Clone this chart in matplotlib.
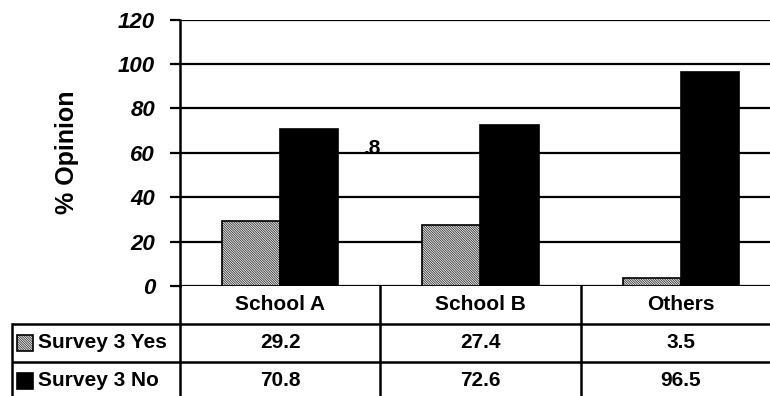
import matplotlib
matplotlib.use("Agg")
import matplotlib.pyplot as plt
from matplotlib.patches import Rectangle
from matplotlib.transforms import blended_transform_factory

# -------------------------------------------------------------------
# Data
# -------------------------------------------------------------------
categories = ["School A", "School B", "Others"]
series_names = ["Survey 3 Yes", "Survey 3 No"]
yes_values = [29.2, 27.4, 3.5]
no_values = [70.8, 72.6, 96.5]
value_labels = [["29.2", "27.4", "3.5"], ["70.8", "72.6", "96.5"]]
y_ticks = [0, 20, 40, 60, 80, 100, 120]

plt.rcParams["font.family"] = ["Liberation Sans", "DejaVu Sans"]
plt.rcParams["hatch.linewidth"] = 0.6

HATCH = "\\" * 14
HATCH_COLOR = "#2a2a2a"

W, H = 770, 396
fig = plt.figure(figsize=(W / 100, H / 100), dpi=100)

# plot area in pixels: left 180, right 781 (runs past the edge), top 19.5, bottom 286
ax_l, ax_r, ax_t, ax_b = 180, 781, 19.5, 286
ax = fig.add_axes([ax_l / W, (H - ax_b) / H, (ax_r - ax_l) / W, (ax_b - ax_t) / H])
ax.set_xlim(-0.5, 2.5)
ax.set_ylim(0, 120)

# -------------------------------------------------------------------
# Bars
# -------------------------------------------------------------------
x = list(range(len(categories)))
w = 0.29
xs_yes = [i - w / 2 for i in x]
xs_no = [i + w / 2 for i in x]

for yv in y_ticks:
    ax.axhline(yv, color="black", lw=1.6, zorder=1)

ax.bar(xs_yes, yes_values, w, color="white", hatch=HATCH, edgecolor=HATCH_COLOR,
       lw=0, zorder=2)
ax.bar(xs_yes, yes_values, w, fill=False, edgecolor="black", lw=1.2, zorder=3)
ax.bar(xs_no, no_values, w, color="black", edgecolor="black", lw=1.2, zorder=3)

# stray label visible in the original
ax.text(0.46, 62.1, ".8", ha="center", va="center", fontsize=15,
        fontweight="bold", zorder=4)

# -------------------------------------------------------------------
# Axes styling
# -------------------------------------------------------------------
for s in ["top", "right", "bottom"]:
    ax.spines[s].set_visible(False)
ax.spines["left"].set_linewidth(1.8)
ax.set_xticks([])
ax.set_yticks(y_ticks)
ax.tick_params(axis="y", direction="out", length=7, width=1.6, pad=11)
for lab in ax.get_yticklabels():
    lab.set_fontsize(16)
    lab.set_fontweight("bold")
    lab.set_fontstyle("italic")
ax.set_ylabel("% Opinion", fontsize=18, fontweight="bold", labelpad=28)

# -------------------------------------------------------------------
# Data table under the chart
# -------------------------------------------------------------------
tr = blended_transform_factory(ax.transData, ax.transAxes)
px_y = 1.0 / (ax_b - ax_t)      # axes fraction per pixel
px_x = 3.0 / (ax_r - ax_l)      # data units per pixel
row_h = 38 * px_y
left_x = -0.5 - (ax_l - 12) * px_x
lw_t = 1.8

rows_y = [0, -row_h, -2 * row_h, -3 * row_h]
# horizontal lines
for yy in rows_y[1:]:
    ax.plot([left_x, 2.5], [yy, yy], color="black", lw=lw_t, transform=tr,
            clip_on=False, solid_capstyle="butt")
# vertical lines
ax.plot([left_x, left_x], [rows_y[1], rows_y[3]], color="black", lw=lw_t,
        transform=tr, clip_on=False)
for xb in [-0.5, 0.5, 1.5]:
    ax.plot([xb, xb], [0, rows_y[3]], color="black", lw=lw_t, transform=tr,
            clip_on=False)

# header
for i, cat in enumerate(categories):
    ax.text(i, -row_h / 2, cat, ha="center", va="center", fontsize=15,
            fontweight="bold", transform=tr)

# series rows
key = 16
for r, name in enumerate(series_names):
    yc = -(r + 1.5) * row_h
    kx = -0.5 - (ax_l - 17) * px_x
    ky = yc - key / 2 * px_y
    if r == 0:
        ax.add_patch(Rectangle((kx, ky), key * px_x, key * px_y,
                               facecolor="white", hatch=HATCH, edgecolor=HATCH_COLOR,
                               lw=0, transform=tr, clip_on=False))
        ax.add_patch(Rectangle((kx, ky), key * px_x, key * px_y,
                               fill=False, edgecolor="black", lw=1.2,
                               transform=tr, clip_on=False))
    else:
        ax.add_patch(Rectangle((kx, ky), key * px_x, key * px_y,
                               facecolor="black", edgecolor="black", lw=1.2,
                               transform=tr, clip_on=False))
    ax.text(-0.5 - (ax_l - 38) * px_x, yc, name, ha="left", va="center",
            fontsize=15, fontweight="bold", transform=tr)
    for i, v in enumerate(value_labels[r]):
        ax.text(i, yc, v, ha="center", va="center", fontsize=15,
                fontweight="bold", transform=tr)

fig.savefig("out.png", dpi=100)
